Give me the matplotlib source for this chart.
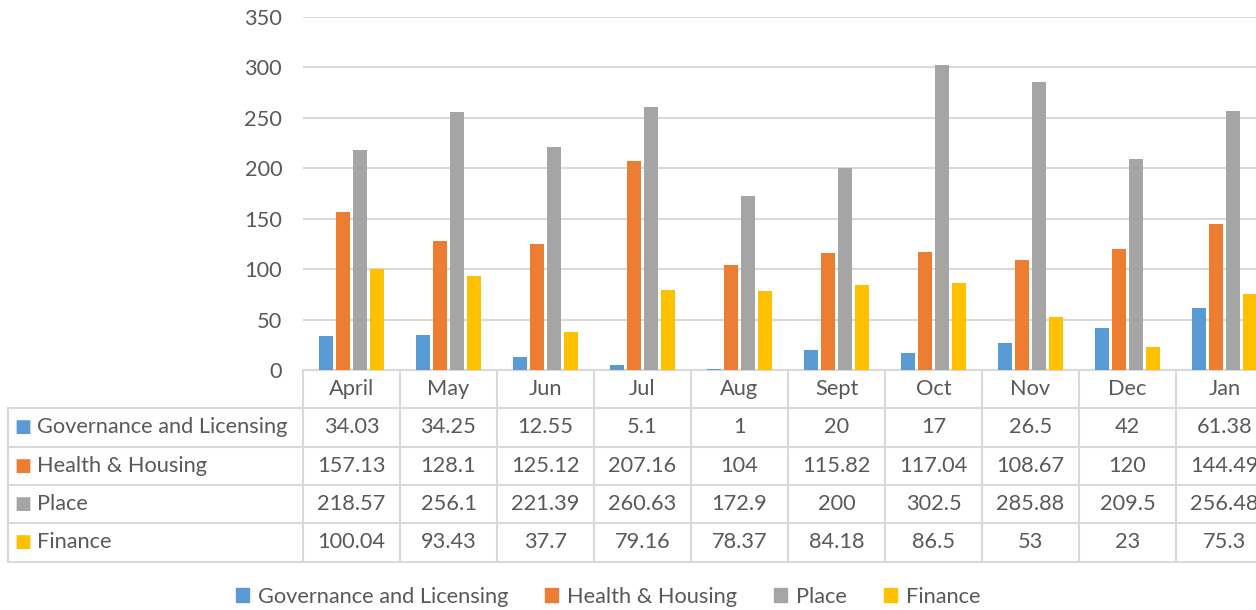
import numpy as np
import matplotlib
matplotlib.use('Agg')
import matplotlib.pyplot as plt
from matplotlib import rcParams
from matplotlib.patches import Patch
from matplotlib.transforms import blended_transform_factory

rcParams['font.family'] = ['Lato', 'DejaVu Sans']
rcParams['font.size'] = 15.7

months = ['April', 'May', 'Jun', 'Jul', 'Aug', 'Sept', 'Oct', 'Nov', 'Dec', 'Jan']
series_names = ['Governance and Licensing', 'Health & Housing', 'Place', 'Finance']
governance = [34.03, 34.25, 12.55, 5.1, 1, 20, 17, 26.5, 42, 61.38]
health = [157.13, 128.1, 125.12, 207.16, 104, 115.82, 117.04, 108.67, 120, 144.49]
place = [218.57, 256.1, 221.39, 260.63, 172.9, 200, 302.5, 285.88, 209.5, 256.48]
finance = [100.04, 93.43, 37.7, 79.16, 78.37, 84.18, 86.5, 53, 23, 75.3]
colors = ['#5B9BD5', '#ED7D31', '#A5A5A5', '#FFC000']

text_col = '#595959'
grid_col = '#d9d9d9'
fs = 15.7
W, H = 1256, 610

fig = plt.figure(figsize=(W / 100, H / 100), dpi=100)
# axes runs past the right edge, like the cropped original
ax = fig.add_axes([303 / W, 1 - 370 / H, 970 / W, 353 / H])

x = np.arange(len(months))
data = [governance, health, place, finance]
step = 0.178
bw = 0.145
for i, (vals, c) in enumerate(zip(data, colors)):
    ax.bar(x + (i - 1.5) * step, vals, bw, color=c, zorder=3)

ax.set_xlim(-0.5, len(months) - 0.5)
ax.set_ylim(0, 350)
ax.set_yticks(range(0, 351, 50))
ax.yaxis.grid(True, color=grid_col, linewidth=1.5, zorder=0)
ax.tick_params(axis='y', length=0, pad=15, colors=text_col, labelsize=fs)
ax.set_xticks([])
for s in ['top', 'right', 'left']:
    ax.spines[s].set_visible(False)
ax.spines['bottom'].set_color(grid_col)
ax.spines['bottom'].set_linewidth(1.5)

# data table under the axis
row_h = 38.3 / 353
tb = blended_transform_factory(ax.transData, ax.transAxes)
left_ax = -295 / 970
for j, m in enumerate(months):
    ax.text(j, -row_h / 2, m, transform=tb, ha='center', va='center',
            color=text_col, fontsize=fs, clip_on=False)
for k in range(len(months) + 1):
    ax.plot([k - 0.5, k - 0.5], [0, -5 * row_h], transform=tb, color=grid_col,
            lw=1.5, clip_on=False)
for r in range(1, 6):
    ax.plot([left_ax, 1], [-r * row_h, -r * row_h], transform=ax.transAxes,
            color=grid_col, lw=1.5, clip_on=False)
ax.plot([left_ax, left_ax], [-row_h, -5 * row_h], transform=ax.transAxes,
        color=grid_col, lw=1.5, clip_on=False)

for r, (name, vals, c) in enumerate(zip(series_names, data, colors)):
    yc = -(r + 1.5) * row_h
    ax.text(left_ax + 6 / 970, yc, '\u25A0', transform=ax.transAxes, ha='left',
            va='center', color=c, fontsize=13, family='DejaVu Sans', clip_on=False)
    ax.text(left_ax + 29 / 970, yc, name, transform=ax.transAxes, ha='left',
            va='center', color=text_col, fontsize=fs, clip_on=False)
    for j, v in enumerate(vals):
        ax.text(j, yc, f'{v:g}', transform=tb, ha='center', va='center',
                color=text_col, fontsize=fs, clip_on=False)

handles = [Patch(color=c, label=n) for c, n in zip(colors, series_names)]
fig.legend(handles=handles, loc='center', bbox_to_anchor=(608 / W, 1 - 597 / H),
           ncol=4, frameon=False, fontsize=fs, labelcolor=text_col,
           handlelength=0.6, handleheight=0.6, handletextpad=0.4,
           columnspacing=1.7)

plt.savefig('out.png', dpi=100)
